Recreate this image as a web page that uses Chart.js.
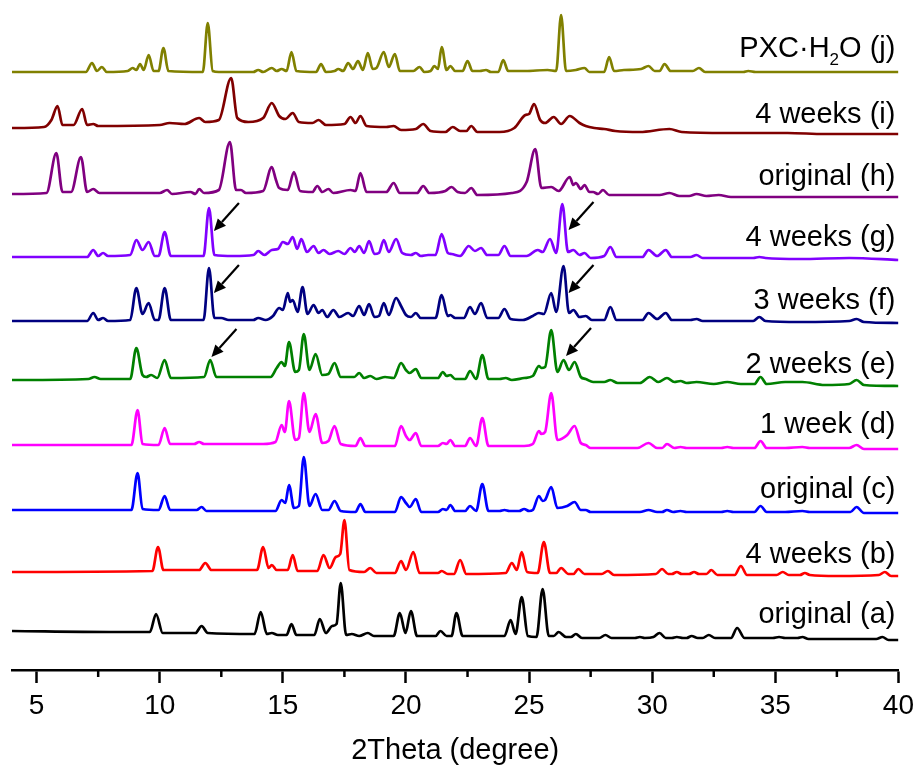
<!DOCTYPE html>
<html lang="en">
<head>
<meta charset="UTF-8">
<title>PXRD patterns</title>
<script src="https://cdn.jsdelivr.net/npm/chart.js"></script>
<style>
  html, body { margin: 0; padding: 0; background: #fff; }
</style>
</head>
<body>
<canvas id="xrd" width="920" height="765"></canvas>
<script>
// each pattern: [2theta, intensity above that pattern's own baseline]
const patA = [[4.0,9],[8.0,8],[9.6,8],[9.85,26],[10.12,7],[11.45,7],[11.7,14],[11.95,7],[13.85,6],[14.1,28],[14.35,6],[14.55,7],[14.8,5],[15.15,5],[15.35,16],[15.55,5],[16.28,5],[16.5,21],[16.75,7],[17.0,14],[17.18,16],[17.35,57],[17.57,5],[17.8,6],[18.1,4],[18.45,7],[18.7,4],[19.5,4],[19.75,27],[19.98,7],[20.2,29],[20.45,4],[21.2,4],[21.4,9],[21.65,4],[21.85,4],[22.05,27],[22.3,4],[24.0,4],[24.25,20],[24.45,6],[24.7,43],[24.95,4],[25.3,3],[25.55,51],[25.8,4],[26.0,4],[26.2,8],[26.5,3],[26.7,3],[26.9,6],[27.15,2],[27.85,2],[28.1,5],[28.35,2],[29.3,2],[29.5,3],[29.7,2],[30.05,3],[30.3,7],[30.55,2],[30.8,2],[31.0,3],[31.25,2],[31.4,2],[31.6,4],[31.85,2],[32.05,2],[32.3,5],[32.55,2],[33.2,2],[33.45,12],[33.75,2],[34.9,2],[35.15,3],[35.4,2],[35.9,2],[36.1,3],[36.35,1],[37.5,1],[39.1,1],[39.35,3],[39.6,0],[40,0]];
const patB = [[4.0,4],[9.7,5],[9.93,29],[10.15,6],[11.6,6],[11.85,13],[12.1,6],[13.95,6],[14.2,29],[14.42,8],[14.55,11],[14.75,6],[15.2,6],[15.4,21],[15.6,5],[16.4,5],[16.65,21],[16.9,8],[17.15,19],[17.33,22],[17.5,56],[17.7,6],[18.3,4],[18.55,8],[18.8,3],[19.55,3],[19.8,15],[20.0,6],[20.3,24],[20.55,3],[21.3,3],[21.45,5],[21.7,2],[21.95,2],[22.2,16],[22.45,2],[24.05,3],[24.3,13],[24.5,6],[24.7,24],[24.92,4],[25.35,3],[25.6,34],[25.85,3],[26.1,3],[26.3,8],[26.6,2],[26.8,2],[27.0,7],[27.25,2],[27.95,2],[28.2,5],[28.45,1],[30.15,2],[30.4,7],[30.65,2],[30.8,2],[31.0,4],[31.2,2],[31.5,2],[31.7,4],[31.9,2],[32.2,2],[32.4,6],[32.65,1],[33.35,1],[33.6,10],[33.85,1],[35.05,1],[35.3,4],[35.55,1],[36.0,1],[36.2,3],[36.4,1],[37.5,0],[39.2,1],[39.45,4],[39.7,0],[40,0]];
const patC = [[4.0,3],[8.85,3],[9.1,40],[9.3,4],[9.95,3],[10.2,17],[10.42,3],[11.5,3],[11.7,6],[11.9,2],[14.7,2],[14.95,13],[15.1,10],[15.25,28],[15.45,5],[15.65,7],[15.85,56],[16.08,7],[16.33,19],[16.6,3],[16.85,3],[17.1,12],[17.35,2],[17.95,1],[18.15,9],[18.35,1],[19.55,1],[19.8,16],[20.0,10],[20.15,6],[20.4,14],[20.62,1],[21.3,1],[21.5,4],[21.65,3],[21.8,8],[22.0,2],[22.4,2],[22.6,7],[22.85,2],[23.1,29],[23.35,2],[23.8,2],[24.0,3],[24.2,2],[24.6,2],[24.8,4],[25.0,2],[25.15,3],[25.4,17],[25.55,12],[25.65,13],[25.9,26],[26.15,5],[26.55,7],[26.85,11],[27.1,3],[27.3,3],[27.5,1],[29.5,1],[29.85,3],[30.2,1],[30.4,1],[30.6,3],[30.85,1],[31.15,2],[31.4,1],[31.8,1],[32.8,1],[33.05,2],[33.3,1],[34.15,1],[34.4,7],[34.65,1],[35.4,1],[36.1,2],[36.4,1],[38.05,1],[38.3,6],[38.6,0],[40,0]];
const patD = [[4.0,4],[8.85,4],[9.1,39],[9.3,5],[9.95,4],[10.2,21],[10.42,5],[11.4,5],[11.6,7],[11.8,5],[14.2,5],[14.7,7],[14.95,24],[15.08,17],[15.25,48],[15.5,9],[15.65,11],[15.85,56],[16.08,17],[16.33,35],[16.6,6],[16.85,8],[17.1,23],[17.35,5],[17.95,3],[18.15,11],[18.35,3],[19.55,3],[19.8,23],[20.0,13],[20.15,9],[20.4,16],[20.62,3],[21.3,3],[21.5,6],[21.65,5],[21.8,9],[22.0,3],[22.4,3],[22.6,11],[22.85,3],[23.1,31],[23.35,3],[24.0,3],[24.8,3],[25.15,5],[25.4,18],[25.5,15],[25.65,17],[25.9,56],[26.15,9],[26.55,14],[26.85,23],[27.1,6],[27.3,4],[27.5,1],[29.4,1],[29.85,6],[30.2,1],[30.4,1],[30.6,5],[30.9,1],[31.15,2],[31.4,1],[31.8,1],[32.8,1],[33.05,2],[33.3,1],[34.15,1],[34.4,8],[34.65,1],[35.4,1],[36.1,2],[36.4,1],[38.0,1],[38.3,4],[38.6,0],[40,0]];
const patE = [[4.0,6],[7.1,7],[7.35,9],[7.6,7],[8.8,7],[9.05,38],[9.3,11],[9.45,9],[9.65,11],[9.9,8],[10.2,26],[10.45,8],[11.8,9],[12.05,26],[12.3,9],[14.5,9],[14.75,18],[14.95,24],[15.08,20],[15.25,44],[15.5,14],[15.65,16],[15.85,52],[16.08,16],[16.33,32],[16.6,11],[16.85,12],[17.1,23],[17.35,9],[17.9,9],[18.1,13],[18.3,8],[18.55,10],[18.8,7],[19.15,9],[19.5,8],[19.8,23],[20.0,16],[20.15,13],[20.4,17],[20.62,8],[21.3,8],[21.5,14],[21.65,10],[21.8,11],[22.0,7],[22.4,7],[22.6,15],[22.85,7],[23.1,31],[23.35,7],[23.8,7],[24.05,8],[24.3,6],[24.8,8],[25.15,10],[25.4,20],[25.5,18],[25.65,19],[25.9,56],[26.15,14],[26.4,26],[26.62,16],[26.85,24],[27.1,9],[27.3,7],[27.6,4],[28.05,4],[28.3,6],[28.6,3],[29.5,3],[29.9,9],[30.25,4],[30.6,8],[30.9,4],[31.15,5],[31.4,3],[31.8,4],[32.5,2],[33.05,4],[33.6,2],[34.15,2],[34.4,9],[34.65,2],[35.4,4],[36.1,4],[37.0,1],[38.0,2],[38.3,6],[38.6,1],[40,0]];
const patF = [[4.0,2],[7.05,2],[7.3,10],[7.5,3],[7.7,5],[7.9,2],[8.8,3],[9.05,35],[9.3,9],[9.55,20],[9.8,3],[9.95,3],[10.2,35],[10.45,3],[11.78,3],[12.0,55],[12.22,5],[12.5,5],[12.8,3],[13.8,3],[14.0,5],[14.3,3],[14.6,7],[14.85,15],[15.0,13],[15.2,30],[15.3,21],[15.4,23],[15.6,11],[15.8,36],[16.0,9],[16.25,18],[16.45,10],[16.6,13],[16.8,6],[17.05,13],[17.3,6],[17.65,10],[17.85,7],[18.1,17],[18.3,8],[18.5,19],[18.72,6],[18.9,7],[19.1,20],[19.3,8],[19.6,25],[19.8,17],[20.0,8],[20.2,6],[20.4,10],[20.6,5],[21.2,5],[21.45,28],[21.7,7],[21.8,8],[22.0,5],[22.35,5],[22.6,16],[22.8,9],[23.05,20],[23.3,5],[23.75,5],[24.0,14],[24.25,4],[24.75,3],[25.15,7],[25.4,10],[25.6,9],[25.9,30],[26.1,11],[26.4,57],[26.62,10],[26.8,13],[27.05,6],[27.3,7],[27.55,3],[28.05,3],[28.3,16],[28.55,3],[28.9,3],[29.6,3],[29.85,10],[30.2,4],[30.55,10],[30.8,3],[31.55,3],[31.8,4],[32.05,2],[34.1,2],[34.35,6],[34.6,2],[36.0,1],[38.0,2],[38.3,4],[38.6,1],[40,0]];
const patG = [[4.0,3],[7.05,3],[7.3,10],[7.5,4],[7.7,7],[7.9,4],[8.8,5],[9.05,20],[9.3,10],[9.55,18],[9.8,4],[9.95,4],[10.2,28],[10.45,4],[11.78,4],[12.0,52],[12.22,5],[13.0,4],[13.8,5],[14.0,9],[14.25,5],[14.55,10],[14.8,11],[15.0,18],[15.2,16],[15.4,23],[15.58,11],[15.75,21],[15.98,8],[16.25,14],[16.45,7],[16.65,10],[16.9,6],[17.25,9],[17.5,6],[17.75,12],[17.92,8],[18.1,14],[18.3,7],[18.5,19],[18.72,6],[18.9,7],[19.1,20],[19.3,8],[19.6,21],[19.85,7],[20.2,5],[20.4,7],[20.6,4],[20.9,5],[21.2,5],[21.45,26],[21.7,7],[21.85,6],[22.2,4],[22.55,14],[22.8,9],[23.05,12],[23.3,5],[23.75,5],[24.0,14],[24.25,4],[24.9,4],[25.35,10],[25.55,8],[25.85,21],[26.1,7],[26.35,56],[26.58,8],[26.8,10],[27.05,5],[27.25,7],[27.5,2],[28.05,4],[28.3,13],[28.55,3],[29.6,3],[29.85,10],[30.2,4],[30.55,10],[30.8,3],[31.55,3],[31.8,5],[32.05,2],[34.1,2],[34.35,3],[34.6,2],[36.0,1],[38.0,2],[40,0]];
const patH = [[4.0,3],[5.4,4],[5.8,44],[6.05,5],[6.4,5],[6.8,40],[7.05,5],[7.3,8],[7.55,4],[10.0,4],[10.3,7],[10.5,3],[11.25,5],[11.45,3],[11.6,8],[11.8,4],[12.4,7],[12.85,55],[13.1,7],[13.3,7],[13.5,4],[14.2,6],[14.55,30],[14.72,17],[14.85,9],[15.2,7],[15.45,25],[15.7,6],[16.2,5],[16.4,11],[16.6,5],[16.85,8],[17.05,4],[17.75,7],[17.95,6],[18.15,24],[18.4,5],[19.2,5],[19.5,14],[19.75,4],[20.45,4],[20.7,11],[20.95,4],[21.6,6],[21.85,10],[22.1,5],[22.4,4],[22.65,9],[22.9,2],[24.3,4],[24.9,15],[25.25,48],[25.5,9],[25.9,10],[26.2,6],[26.65,20],[26.8,12],[26.9,14],[27.1,8],[27.25,12],[27.45,5],[27.6,5],[27.8,3],[28.0,7],[28.25,2],[30.3,2],[30.7,4],[31.1,1],[31.5,1],[31.8,3],[32.2,1],[32.7,2],[33.2,0],[40,0]];
const patI = [[4.0,6],[5.3,7],[5.6,14],[5.85,28],[6.05,9],[6.5,9],[6.85,25],[7.05,9],[7.3,10],[7.5,8],[10.0,9],[10.4,11],[11.0,10],[11.6,16],[11.85,12],[12.4,14],[12.9,56],[13.15,16],[13.6,12],[14.2,16],[14.55,31],[14.85,18],[15.1,15],[15.4,21],[15.65,12],[16.2,11],[16.45,14],[16.75,9],[17.5,10],[17.75,17],[17.95,11],[18.15,18],[18.4,8],[19.2,7],[19.5,8],[19.8,4],[20.4,5],[20.7,10],[21.0,3],[21.6,2],[21.9,7],[22.2,3],[22.45,3],[22.65,8],[22.9,2],[23.8,2],[24.4,6],[24.85,19],[25.0,20],[25.2,30],[25.45,14],[25.65,11],[26.0,17],[26.3,10],[26.65,18],[27.05,11],[27.3,8],[27.65,6],[28.05,5],[28.5,3],[29.5,2],[30.7,5],[31.2,2],[33.0,1],[35.5,1],[37.0,0],[40,0]];
const patJ = [[4.0,0],[7.0,0],[7.25,9],[7.45,1],[7.65,5],[7.85,0],[8.7,1],[8.9,4],[9.05,2],[9.2,8],[9.35,2],[9.55,17],[9.75,1],[9.95,1],[10.15,24],[10.35,1],[11.75,0],[11.95,49],[12.15,1],[12.4,0],[13.8,0],[14.0,2],[14.2,0],[14.55,4],[14.75,1],[14.95,3],[15.15,1],[15.35,20],[15.55,1],[16.35,0],[16.55,8],[16.75,0],[17.1,1],[17.25,3],[17.45,1],[17.65,9],[17.85,3],[18.05,11],[18.25,2],[18.45,19],[18.65,3],[18.8,4],[19.1,20],[19.3,5],[19.55,18],[19.75,1],[20.3,1],[20.55,5],[20.75,0],[21.0,1],[21.15,6],[21.3,3],[21.45,25],[21.65,2],[21.8,6],[22.0,1],[22.3,1],[22.5,11],[22.7,1],[23.0,1],[23.25,2],[23.45,0],[23.75,0],[23.95,12],[24.15,1],[24.85,1],[25.75,2],[26.1,1],[26.3,57],[26.5,1],[26.9,2],[27.25,4],[27.45,0],[28.05,0],[28.25,15],[28.45,1],[28.85,2],[29.55,3],[29.85,6],[30.1,1],[30.3,1],[30.5,8],[30.75,1],[31.35,1],[31.65,1],[31.9,4],[32.15,0],[33.7,0],[33.9,1],[34.2,0],[40,0]];

const patterns = [patA, patB, patC, patD, patE, patF, patG, patH, patI, patJ];
const seriesNames = ['original (a)', '4 weeks (b)', 'original (c)', '1 week (d)', '2 weeks (e)',
                     '3 weeks (f)', '4 weeks (g)', 'original (h)', '4 weeks (i)', 'PXC\u00B7H2O (j)'];
const seriesColors = ['#000000', '#ff0000', '#0000ff', '#ff00ff', '#008000',
                      '#000080', '#8000ff', '#800080', '#800000', '#808000'];
// vertical stacking offset of each pattern
const offsets = [30, 94, 157, 221, 284, 347, 410, 473, 536, 598];
const xTicks = [5, 10, 15, 20, 25, 30, 35, 40];
const xMinorTicks = [7.5, 12.5, 17.5, 22.5, 27.5, 32.5, 37.5];
// arrows marking the hydrate peaks: [2theta, y of arrow tip]
const arrowTips = [[12.2, 439], [12.2, 377], [12.1, 313], [26.6, 440], [26.6, 377], [26.5, 314]];

const labelY = [47, 107, 172, 237, 297, 361, 424, 485, 547, 613];
const FONT = '"Liberation Sans", Arial, Helvetica, sans-serif';

const decorations = {
  id: 'decorations',
  afterDatasetsDraw(chart) {
    const { ctx, chartArea, scales: { x, y } } = chart;
    ctx.save();

    // minor ticks on the x axis
    ctx.strokeStyle = '#000';
    ctx.lineWidth = 2.5;
    xMinorTicks.forEach(v => {
      const px = x.getPixelForValue(v);
      ctx.beginPath();
      ctx.moveTo(px, chartArea.bottom);
      ctx.lineTo(px, chartArea.bottom + 7);
      ctx.stroke();
    });

    // arrows
    ctx.fillStyle = '#000';
    ctx.lineWidth = 2.2;
    arrowTips.forEach(([tx, ty]) => {
      const px = x.getPixelForValue(tx);
      const py = y.getPixelForValue(ty);
      const sx = px + 25, sy = py - 28;
      const len = Math.hypot(px - sx, py - sy);
      const ux = (px - sx) / len, uy = (py - sy) / len;
      const bx = px - ux * 12, by = py - uy * 12;
      ctx.beginPath();
      ctx.moveTo(sx, sy);
      ctx.lineTo(bx, by);
      ctx.stroke();
      ctx.beginPath();
      ctx.moveTo(px, py);
      ctx.lineTo(bx - uy * 5.5, by + ux * 5.5);
      ctx.lineTo(bx + uy * 5.5, by - ux * 5.5);
      ctx.closePath();
      ctx.fill();
    });

    // pattern labels, right aligned
    const right = chartArea.right - 3;
    ctx.textBaseline = 'alphabetic';
    seriesNames.forEach((name, i) => {
      const py = y.getPixelForValue(labelY[i]);
      ctx.font = '29px ' + FONT;
      if (name.indexOf('H2O') >= 0) {
        const parts = name.split('H2O');
        const a = parts[0] + 'H', b = 'O' + parts[1];
        const wa = ctx.measureText(a).width;
        const wb = ctx.measureText(b).width;
        ctx.font = '17px ' + FONT;
        const ws = ctx.measureText('2').width;
        const left = right - wa - ws - wb;
        ctx.textAlign = 'left';
        ctx.font = '29px ' + FONT;
        ctx.fillText(a, left, py);
        ctx.font = '17px ' + FONT;
        ctx.fillText('2', left + wa, py + 8);
        ctx.font = '29px ' + FONT;
        ctx.fillText(b, left + wa + ws, py);
      } else {
        ctx.textAlign = 'right';
        ctx.fillText(name, right, py);
      }
    });
    ctx.restore();
  }
};

new Chart(document.getElementById('xrd'), {
  type: 'line',
  data: {
    datasets: patterns.map((p, i) => ({
      label: seriesNames[i],
      data: p.map(([t, v]) => ({ x: t, y: v + offsets[i] })),
      borderColor: seriesColors[i],
      borderWidth: 2.7,
      pointRadius: 0,
      fill: false,
      cubicInterpolationMode: 'monotone'
    }))
  },
  options: {
    responsive: false,
    animation: false,
    layout: { padding: { left: 12, right: 19, top: 5, bottom: 0 } },
    plugins: {
      legend: { display: false },
      tooltip: { enabled: false }
    },
    scales: {
      x: {
        type: 'linear',
        min: 4,
        max: 40,
        afterBuildTicks: s => { s.ticks = xTicks.map(v => ({ value: v })); },
        afterFit: s => { s.height = 95; },
        border: { display: true, color: '#000', width: 2.5 },
        grid: { display: true, drawOnChartArea: false, drawTicks: true, tickLength: 13, tickWidth: 2.5, tickColor: '#000' },
        ticks: { color: '#000', padding: 6, font: { family: FONT, size: 28 }, maxRotation: 0 },
        title: { display: true, text: '2Theta (degree)', color: '#000', font: { family: FONT, size: 29 }, padding: { top: 0, bottom: -3 } }
      },
      y: {
        display: false,
        min: 0,
        max: 665
      }
    }
  },
  plugins: [decorations]
});
</script>
</body>
</html>
